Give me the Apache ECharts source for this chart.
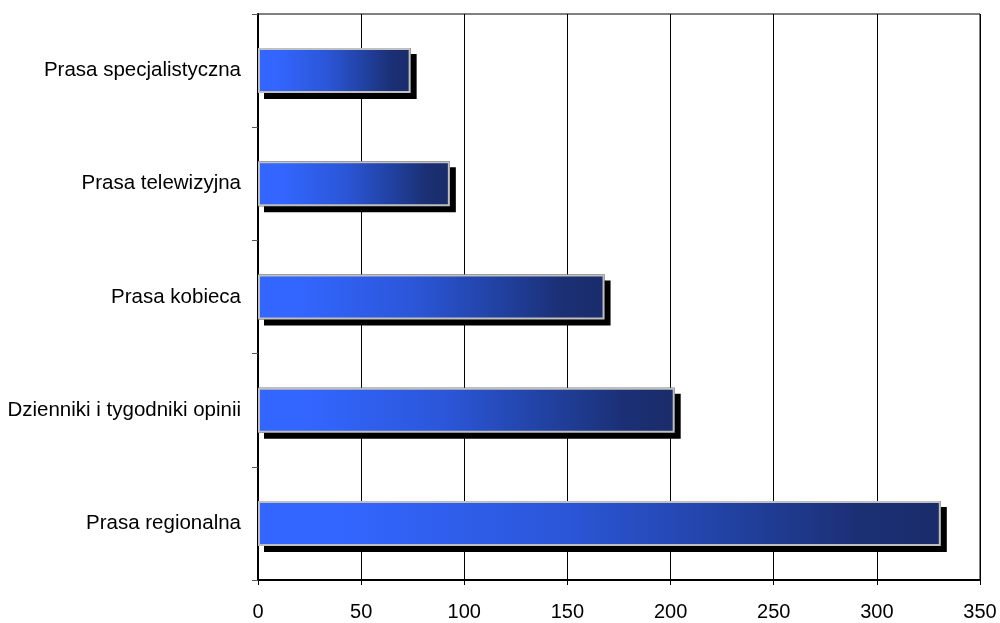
<!DOCTYPE html>
<html>
<head>
<meta charset="utf-8">
<script src="https://cdn.jsdelivr.net/npm/echarts@6/dist/echarts.min.js"></script>
<style>html,body{margin:0;padding:0;background:#fff}#c{width:1000px;height:623px}</style>
</head>
<body>
<div id="c"></div>
<script>
const categories = ["Prasa specjalistyczna", "Prasa telewizyjna", "Prasa kobieca", "Dzienniki i tygodniki opinii", "Prasa regionalna"];
const values = [74, 93, 168, 202, 331];
const xTicks = [0, 50, 100, 150, 200, 250, 300, 350];

const FONT = '"Liberation Sans", Arial, sans-serif';
const chart = echarts.init(document.getElementById('c'), null, {renderer: 'canvas'});
chart.setOption({
  animation: false,
  backgroundColor: '#fff',
  textStyle: {fontFamily: FONT},
  grid: {left: 258, right: 20, top: 14, bottom: 43, show: true, borderColor: '#000', borderWidth: 1, containLabel: false},
  xAxis: {
    type: 'value', min: xTicks[0], max: xTicks[xTicks.length - 1], interval: 50,
    axisLine: {show: true, lineStyle: {color: '#000', width: 2}},
    axisTick: {show: true, length: 5, lineStyle: {color: '#000'}},
    splitLine: {show: true, lineStyle: {color: '#000', width: 1}},
    axisLabel: {color: '#000', fontSize: 20, margin: 22, fontFamily: FONT}
  },
  yAxis: {
    type: 'category', data: categories, inverse: true,
    axisLine: {show: true, lineStyle: {color: '#000', width: 2}},
    axisTick: {show: true, length: 6, alignWithLabel: false, lineStyle: {color: '#555'}},
    axisLabel: {color: '#000', fontSize: 20.5, margin: 17, fontFamily: FONT},
    splitLine: {show: false}
  },
  series: [{
    // shadow layer (hidden under the front bar, only its offset shadow shows)
    type: 'bar',
    data: values,
    barWidth: 45,
    barGap: '-100%',
    silent: true,
    itemStyle: {
      color: '#000',
      shadowColor: '#000',
      shadowBlur: 0,
      shadowOffsetX: 6,
      shadowOffsetY: 6
    }
  }, {
    type: 'bar',
    data: values,
    barWidth: 45,
    barGap: '-100%',
    itemStyle: {
      color: new echarts.graphic.LinearGradient(0, 0, 1, 0, [
        {offset: 0, color: '#3366ff'},
        {offset: 0.12, color: '#3366ff'},
        {offset: 0.45, color: '#2b56d8'},
        {offset: 0.7, color: '#2141a0'},
        {offset: 0.88, color: '#1b2f74'},
        {offset: 1, color: '#1a2c6a'}
      ]),
      borderColor: '#c0c0c0',
      borderWidth: 2
    }
  }]
});
</script>
</body>
</html>
